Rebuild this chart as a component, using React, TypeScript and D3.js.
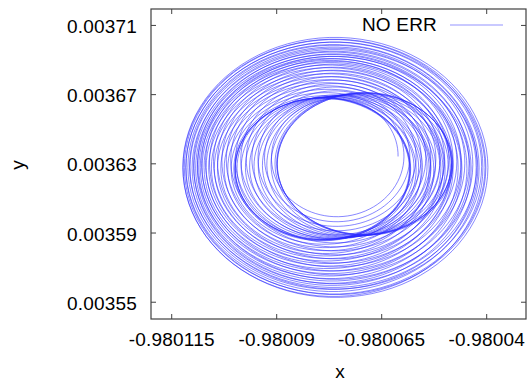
import React from "react";
import * as d3 from "d3";

// Extent of each revolution of the trajectory (left, right, bottom, top).
// Outward spiral from the hole, inward spiral to the first dark loop, then loops drifting right to the second dark loop.
const loopLeft = [
  -0.9800904, -0.9800921, -0.9800937, -0.9800952, -0.9800966, -0.9800979, -0.9800992, -0.9801004,
  -0.9801015, -0.9801025, -0.9801036, -0.9801046, -0.9801055, -0.9801065, -0.9801074, -0.9801084,
  -0.9801093, -0.9801103, -0.9801112, -0.9801121,
  -0.9801125, -0.9801122, -0.9801118, -0.9801114, -0.9801109, -0.9801104, -0.9801099, -0.9801095,
  -0.9801091, -0.9801087, -0.9801084, -0.980108, -0.9801075, -0.9801071, -0.9801065, -0.9801059,
  -0.9801052, -0.9801045, -0.9801037, -0.9801029, -0.9801021, -0.9801012, -0.9801005, -0.9800999,
  -0.9800998, -0.98010, -0.9800999,
  -0.980099, -0.9800979, -0.980097, -0.9800959, -0.9800949, -0.9800939, -0.9800929, -0.9800918,
  -0.9800909, -0.9800899, -0.9800898, -0.98009,
];
const loopRight = [
  -0.9800611, -0.9800597, -0.9800583, -0.9800568, -0.9800556, -0.9800545, -0.9800533, -0.9800521,
  -0.9800511, -0.98005, -0.980049, -0.980048, -0.9800471, -0.9800461, -0.9800452, -0.9800442,
  -0.9800433, -0.9800423, -0.9800412, -0.9800402,
  -0.9800397, -0.9800409, -0.9800404, -0.9800418, -0.9800425, -0.9800421, -0.9800437, -0.9800447,
  -0.980044, -0.9800459, -0.9800468, -0.9800461, -0.980048, -0.9800487, -0.9800483, -0.9800499,
  -0.9800509, -0.9800504, -0.9800526, -0.9800537, -0.9800533, -0.9800556, -0.9800568, -0.9800583,
  -0.9800581, -0.9800584, -0.9800582,
  -0.9800573, -0.9800562, -0.9800553, -0.9800542, -0.9800533, -0.9800522, -0.9800512, -0.9800502,
  -0.9800492, -0.9800483, -0.9800481, -0.9800484,
];
const loopBottom = [
  0.0036016, 0.0035987, 0.0035958, 0.0035932, 0.0035906, 0.0035883, 0.003586, 0.0035837,
  0.0035814, 0.0035791, 0.0035768, 0.0035745, 0.0035721, 0.0035698, 0.0035675, 0.0035652,
  0.0035626, 0.00356, 0.0035568, 0.0035536,
  0.0035525, 0.0035536, 0.0035551, 0.0035565, 0.0035577, 0.0035588, 0.00356, 0.0035612,
  0.0035626, 0.003564, 0.0035655, 0.0035669, 0.0035684, 0.0035698, 0.0035713, 0.0035727,
  0.0035742, 0.0035756, 0.0035771, 0.0035785, 0.0035802, 0.003582, 0.003584, 0.003586,
  0.0035857, 0.0035863, 0.0035861,
  0.0035863, 0.0035866, 0.0035869, 0.0035872, 0.0035875, 0.0035877, 0.003588, 0.0035883,
  0.0035886, 0.0035889, 0.0035886, 0.0035892,
];
const loopTop = [
  0.0036669, 0.0036693, 0.0036716, 0.0036739, 0.0036759, 0.0036779, 0.0036799, 0.003682,
  0.0036837, 0.0036854, 0.0036872, 0.0036889, 0.0036903, 0.0036918, 0.0036932, 0.0036947,
  0.0036964, 0.0036981, 0.0036999, 0.0037016,
  0.0037034, 0.0037022, 0.0037008, 0.0036993, 0.0036979, 0.0036964, 0.003695, 0.0036935,
  0.0036924, 0.0036912, 0.0036901, 0.0036889, 0.0036875, 0.003686, 0.0036843, 0.0036825,
  0.0036808, 0.0036791, 0.0036773, 0.0036756, 0.0036736, 0.0036716, 0.0036698, 0.0036681,
  0.0036684, 0.0036678, 0.0036682,
  0.0036684, 0.0036687, 0.003669, 0.0036693, 0.0036695, 0.0036698, 0.0036701, 0.0036704,
  0.0036707, 0.003671, 0.0036707, 0.0036713,
];

const xTicks = [-0.980115, -0.98009, -0.980065, -0.98004];
const xTickLabels = ["-0.980115", "-0.98009", "-0.980065", "-0.98004"];
const yTicks = [0.00355, 0.00359, 0.00363, 0.00367, 0.00371];
const yTickLabels = ["0.00355", "0.00359", "0.00363", "0.00367", "0.00371"];
const seriesName = "NO ERR";

const W = 527;
const H = 381;
const L = 151;
const R = 526;
const T = 9;
const B = 319;

export default function App() {
  const x = d3.scaleLinear().domain([-0.98011993, -0.98003064]).range([L, R]);
  const y = d3.scaleLinear().domain([0.0035403, 0.0037195]).range([B, T]);

  const pts: [number, number][] = [];
  const n = loopLeft.length;
  const steps = 90;
  for (let k = 0; k < n; k++) {
    const k2 = Math.min(k + 1, n - 1);
    const last = k === n - 1;
    for (let s = 0; s <= (last ? steps : steps - 1); s++) {
      const f = s / steps;
      const a = 2 * Math.PI * f;
      const lerp = (arr: number[]) => arr[k] + (arr[k2] - arr[k]) * f;
      const l = lerp(loopLeft);
      const r = lerp(loopRight);
      const b = lerp(loopBottom);
      const t = lerp(loopTop);
      const cx = (l + r) / 2;
      const cy = (b + t) / 2;
      pts.push([cx + ((r - l) / 2) * Math.cos(a), cy + ((t - b) / 2) * Math.sin(a)]);
    }
  }
  const line = d3
    .line<[number, number]>()
    .x((d) => x(d[0]))
    .y((d) => y(d[1]));

  const font = "'Liberation Sans', Arial, Helvetica, sans-serif";
  const fs = 19;
  const ls = 0.2;
  const border = "#404040";

  return (
    <svg
      width={W}
      height={H}
      style={{ position: "fixed", left: 0, top: 0, background: "#fff" }}
      fontFamily={font}
    >
      <rect x={0} y={0} width={W} height={H} fill="#fff" />
      <defs>
        <clipPath id="plot">
          <rect x={L} y={T} width={R - L} height={B - T} />
        </clipPath>
      </defs>
      <path
        d={line(pts) || ""}
        fill="none"
        stroke="#2a2aff"
        strokeWidth={0.8}
        strokeOpacity={0.7}
        clipPath="url(#plot)"
      />
      {xTicks.map((t) => (
        <g key={"xt" + t}>
          <line x1={x(t)} x2={x(t)} y1={B} y2={B - 5} stroke={border} strokeWidth={1} />
          <line x1={x(t)} x2={x(t)} y1={T} y2={T + 5} stroke={border} strokeWidth={1} />
        </g>
      ))}
      {yTicks.map((t) => (
        <g key={"yt" + t}>
          <line x1={L} x2={L + 5} y1={y(t)} y2={y(t)} stroke={border} strokeWidth={1} />
          <line x1={R} x2={R - 5} y1={y(t)} y2={y(t)} stroke={border} strokeWidth={1} />
        </g>
      ))}
      <rect x={L} y={T} width={R - L} height={B - T} fill="none" stroke={border} strokeWidth={1.2} />
      {xTicks.map((t, i) => (
        <text key={"xl" + t} x={x(t)} y={346} textAnchor="middle" fontSize={fs} letterSpacing={ls} fill="#000">
          {xTickLabels[i]}
        </text>
      ))}
      {yTicks.map((t, i) => (
        <text key={"yl" + t} x={137} y={y(t) + 7.5} textAnchor="end" fontSize={fs} letterSpacing={ls} fill="#000">
          {yTickLabels[i]}
        </text>
      ))}
      <text x={340} y={378} textAnchor="middle" fontSize={fs} fill="#000">
        x
      </text>
      <text
        x={0}
        y={0}
        transform={`translate(24,165) rotate(-90)`}
        textAnchor="middle"
        fontSize={fs}
        fill="#000"
      >
        y
      </text>
      <text x={437} y={31} textAnchor="end" fontSize={fs} letterSpacing={ls} fill="#000">
        {seriesName}
      </text>
      <line x1={450} x2={503} y1={25} y2={25} stroke="#2a2aff" strokeOpacity={0.5} strokeWidth={1} />
    </svg>
  );
}
